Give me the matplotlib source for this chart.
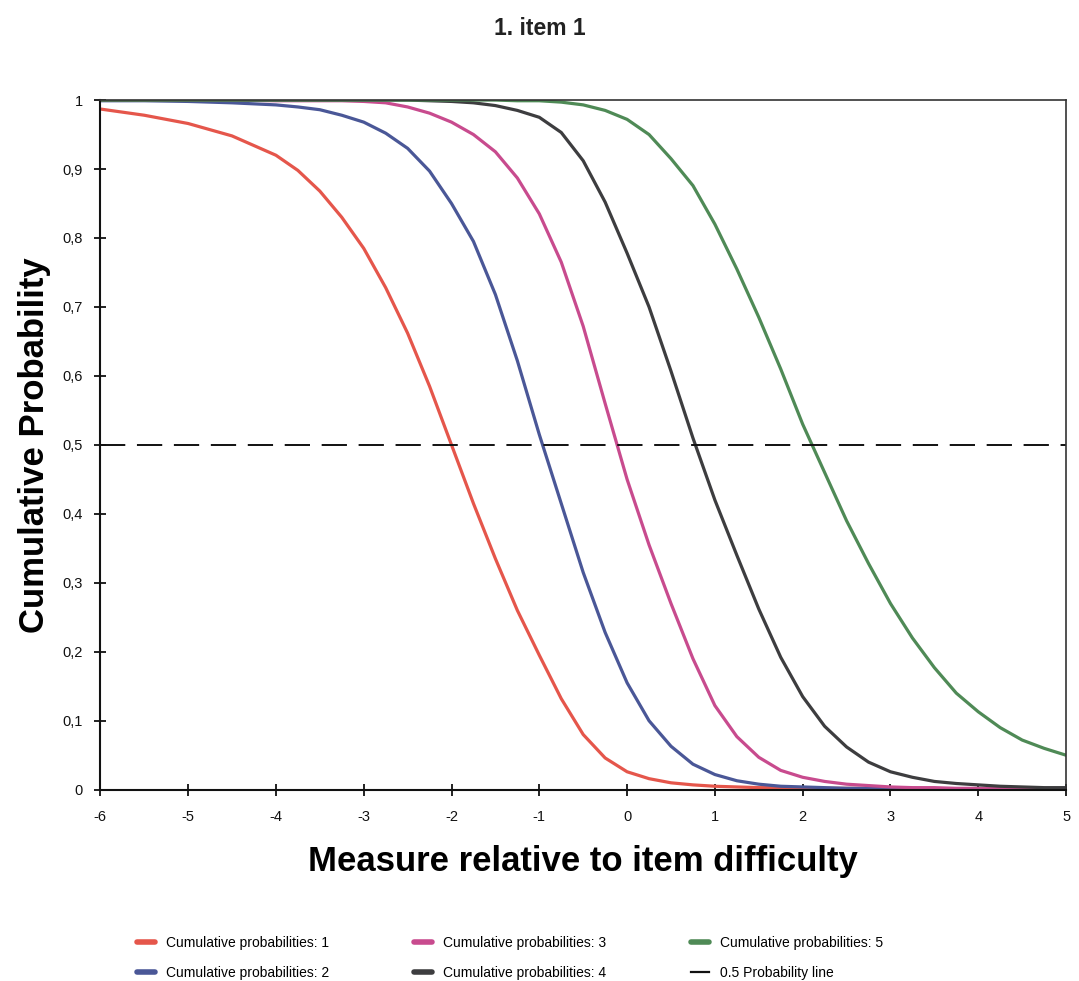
import matplotlib
matplotlib.use('Agg')
import matplotlib.pyplot as plt
from matplotlib.lines import Line2D

plt.rcParams['font.family'] = ['Liberation Sans', 'DejaVu Sans']

# measure relative to item difficulty (logits)
measure = [-6, -5.5, -5, -4.5, -4, -3.75, -3.5, -3.25, -3, -2.75, -2.5, -2.25,
           -2, -1.75, -1.5, -1.25, -1, -0.75, -0.5, -0.25, 0, 0.25,
           0.5, 0.75, 1, 1.25, 1.5, 1.75, 2, 2.25, 2.5, 2.75,
           3, 3.25, 3.5, 3.75, 4, 4.25, 4.5, 4.75, 5]

# cumulative probabilities
cum_1 = [0.987, 0.978, 0.966, 0.948, 0.920, 0.898, 0.868, 0.830, 0.785, 0.728, 0.662, 0.585,
         0.500, 0.415, 0.335, 0.260, 0.195, 0.132, 0.080, 0.046, 0.026, 0.016,
         0.010, 0.007, 0.005, 0.004, 0.003, 0.003, 0.002, 0.002, 0.002, 0.002,
         0.002, 0.001, 0.001, 0.001, 0.001, 0.001, 0.001, 0.001, 0.001]
cum_2 = [0.999, 0.999, 0.998, 0.996, 0.993, 0.990, 0.986, 0.978, 0.968, 0.952, 0.930, 0.897,
         0.850, 0.795, 0.718, 0.622, 0.515, 0.415, 0.315, 0.228, 0.155, 0.100,
         0.063, 0.037, 0.022, 0.013, 0.008, 0.005, 0.004, 0.003, 0.002, 0.002,
         0.002, 0.002, 0.001, 0.001, 0.001, 0.001, 0.001, 0.001, 0.001]
cum_3 = [1.000, 1.000, 1.000, 1.000, 0.999, 0.999, 0.999, 0.999, 0.998, 0.996, 0.990, 0.981,
         0.968, 0.950, 0.925, 0.887, 0.835, 0.765, 0.672, 0.560, 0.450, 0.355,
         0.270, 0.190, 0.122, 0.077, 0.047, 0.028, 0.018, 0.012, 0.008, 0.006,
         0.004, 0.003, 0.003, 0.002, 0.002, 0.002, 0.001, 0.001, 0.001]
cum_4 = [1.000, 1.000, 1.000, 1.000, 1.000, 1.000, 1.000, 1.000, 1.000, 1.000, 1.000, 0.999,
         0.998, 0.996, 0.992, 0.985, 0.975, 0.953, 0.912, 0.852, 0.778, 0.700,
         0.607, 0.510, 0.420, 0.340, 0.262, 0.192, 0.135, 0.092, 0.062, 0.040,
         0.026, 0.018, 0.012, 0.009, 0.007, 0.005, 0.004, 0.003, 0.003]
cum_5 = [1.000, 1.000, 1.000, 1.000, 1.000, 1.000, 1.000, 1.000, 1.000, 1.000, 1.000, 1.000,
         1.000, 1.000, 1.000, 0.999, 0.999, 0.997, 0.993, 0.985, 0.972, 0.950,
         0.915, 0.876, 0.820, 0.755, 0.685, 0.610, 0.530, 0.460, 0.390, 0.328,
         0.270, 0.220, 0.177, 0.140, 0.113, 0.090, 0.072, 0.060, 0.050]

series = [cum_1, cum_2, cum_3, cum_4, cum_5]
labels = ['Cumulative probabilities: %d' % i for i in range(1, 6)]
colors = ['#e5564b', '#4a5797', '#c84b8e', '#3d3d3f', '#4f8a56']

half_x = [-6, 5]
half_y = [0.5, 0.5]

y_ticks = [0, 0.1, 0.2, 0.3, 0.4, 0.5, 0.6, 0.7, 0.8, 0.9, 1]
y_tick_labels = ['0', '0,1', '0,2', '0,3', '0,4', '0,5', '0,6', '0,7', '0,8', '0,9', '1']
x_ticks = [-6, -5, -4, -3, -2, -1, 0, 1, 2, 3, 4, 5]

fig = plt.figure(figsize=(10.79, 9.81), dpi=100)
ax = fig.add_axes([0.093, 0.195, 0.895, 0.703])

for vals, col in zip(series, colors):
    ax.plot(measure, vals, color=col, linewidth=2.3, solid_capstyle='round')

ax.plot(half_x, half_y, color='#111111', linewidth=1.4, dashes=(13, 6))

ax.set_xlim(-6, 5)
ax.set_ylim(0, 1)
ax.set_xticks(x_ticks)
ax.set_xticklabels([str(t) for t in x_ticks])
ax.set_yticks(y_ticks)
ax.set_yticklabels(y_tick_labels)
ax.tick_params(direction='inout', length=9, width=1.3, labelsize=10.5, colors='#111111')
ax.tick_params(axis='x', pad=10)
ax.tick_params(axis='y', pad=8)

for side in ['left', 'bottom']:
    ax.spines[side].set_linewidth(1.5)
    ax.spines[side].set_color('#111111')
for side in ['top', 'right']:
    ax.spines[side].set_linewidth(1.2)
    ax.spines[side].set_color('#333333')

fig.text(0.5, 0.971, '1. item 1', ha='center', va='center', fontsize=16.5,
         fontweight='bold', color='#222222')
ax.set_xlabel('Measure relative to item difficulty', fontsize=25, fontweight='bold', labelpad=15)
ax.set_ylabel('Cumulative Probability', fontsize=25, fontweight='bold', labelpad=8)

# legend proxies: short thick bars, solid black for the 0.5 line
handles = [Line2D([0], [0], color=c, linewidth=4, solid_capstyle='round') for c in colors]
handles.append(Line2D([0], [0], color='#111111', linewidth=1.6))
fig.legend(handles, labels + ['0.5 Probability line'], loc='lower left',
           bbox_to_anchor=(0.115, -0.012), ncol=3, frameon=False, fontsize=10,
           handlelength=1.3, columnspacing=6.1, labelspacing=1.2, handletextpad=0.8)

fig.savefig('out.png', dpi=100, facecolor='white')
